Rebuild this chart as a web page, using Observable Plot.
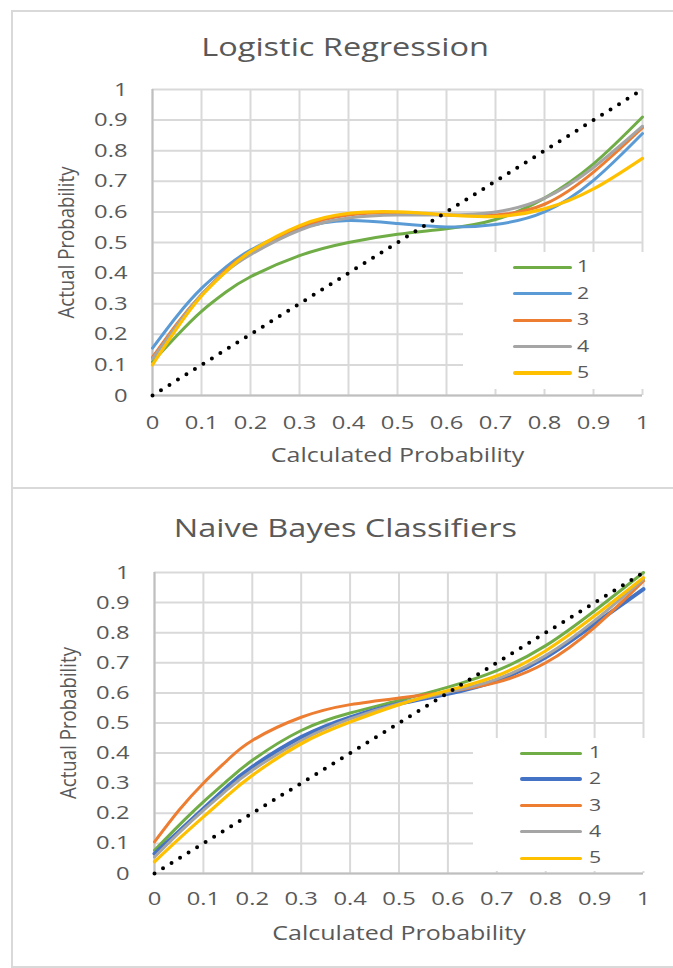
<!DOCTYPE html>
<html>
<head>
<meta charset="utf-8">
<script src="https://cdn.jsdelivr.net/npm/d3@7"></script>
<script src="https://cdn.jsdelivr.net/npm/@observablehq/plot@0.6"></script>
<style>
  html, body { margin: 0; padding: 0; background: #fff; }
  #page { position: relative; width: 673px; height: 968px; overflow: hidden; font-family: "Open Sans", sans-serif; color: #595959; }
  .panel { position: absolute; left: 11px; width: 720px; border: 2px solid #d9d9d9; box-sizing: border-box; }
  .title { position: absolute; left: 0; width: 690px; text-align: center; font-size: 26px; line-height: 30px; color: #595959; white-space: nowrap; }
  .title span { display: inline-block; transform: scaleX(1.25); }
  .chart { position: absolute; left: 0; }
  .legend { position: absolute; background: #fff; z-index: 2; }
  .legend .ln { position: absolute; border-radius: 2px; }
  .legend .lb { position: absolute; font-size: 17px; line-height: 20px; color: #595959; transform-origin: left center; transform: scaleX(1.25); }
</style>
</head>
<body>
<div id="page"></div>
<script>
// ---------- data ----------
const xs = [0, 0.05, 0.1, 0.15, 0.2, 0.3, 0.4, 0.5, 0.6, 0.7, 0.8, 0.9, 1];
const ticks = [0, 0.1, 0.2, 0.3, 0.4, 0.5, 0.6, 0.7, 0.8, 0.9, 1];
const seriesNames = ["1", "2", "3", "4", "5"];

// Logistic Regression
const lr1 = [0.11, 0.196, 0.275, 0.338, 0.388, 0.457, 0.50, 0.527, 0.545, 0.575, 0.645, 0.757, 0.91];
const lr2 = [0.155, 0.26, 0.35, 0.42, 0.475, 0.545, 0.572, 0.562, 0.551, 0.559, 0.60, 0.703, 0.856];
const lr3 = [0.125, 0.235, 0.33, 0.41, 0.47, 0.55, 0.59, 0.597, 0.59, 0.59, 0.625, 0.73, 0.875];
const lr4 = [0.12, 0.23, 0.33, 0.405, 0.46, 0.54, 0.58, 0.59, 0.59, 0.60, 0.645, 0.745, 0.88];
const lr5 = [0.10, 0.22, 0.325, 0.405, 0.47, 0.555, 0.595, 0.60, 0.59, 0.585, 0.61, 0.675, 0.775];

// Naive Bayes Classifiers
const nb1 = [0.077, 0.16, 0.238, 0.31, 0.376, 0.475, 0.533, 0.575, 0.619, 0.674, 0.757, 0.873, 1.0];
const nb2 = [0.066, 0.14, 0.215, 0.29, 0.354, 0.453, 0.519, 0.564, 0.597, 0.641, 0.718, 0.829, 0.945];
const nb3 = [0.105, 0.21, 0.30, 0.378, 0.442, 0.519, 0.561, 0.583, 0.604, 0.635, 0.70, 0.818, 0.972];
const nb4 = [0.055, 0.135, 0.21, 0.28, 0.343, 0.442, 0.514, 0.564, 0.602, 0.646, 0.724, 0.84, 0.978];
const nb5 = [0.039, 0.115, 0.188, 0.26, 0.326, 0.431, 0.503, 0.561, 0.608, 0.657, 0.74, 0.856, 0.983];

const lrColors = ["#70AD47", "#5B9BD5", "#ED7D31", "#A5A5A5", "#FFC000"];
const nbColors = ["#70AD47", "#4472C4", "#ED7D31", "#A5A5A5", "#FFC000"];
const lrWidths = [3, 3, 3, 3, 3.2];
const nbWidths = [3, 4, 3, 3, 3.2];

// ---------- drawing ----------
const page = document.getElementById("page");

function addPanel(top, height) {
  const p = document.createElement("div");
  p.className = "panel";
  p.style.top = top + "px";
  p.style.height = height + "px";
  page.appendChild(p);
}

function addTitle(text, top) {
  const t = document.createElement("div");
  t.className = "title";
  t.style.top = top + "px";
  const s = document.createElement("span");
  s.textContent = text;
  t.appendChild(s);
  page.appendChild(t);
}

function makeChart(series, colors, widths, g) {
  const data = series.flatMap((ys, i) => ys.map((y, j) => ({x: xs[j], y, s: seriesNames[i]})));
  const lines = series.map((ys, i) =>
    Plot.line(data.filter(d => d.s === seriesNames[i]), {
      x: "x", y: "y", stroke: colors[i], strokeWidth: widths[i], curve: "natural", strokeLinejoin: "round"
    })
  );
  const svg = Plot.plot({
    width: 673,
    height: g.h,
    marginLeft: g.l, marginRight: g.r, marginTop: g.t, marginBottom: g.b,
    style: {fontFamily: "Open Sans", fontSize: "19px", color: "#595959", background: "transparent", overflow: "visible"},
    x: {domain: [0, 1]},
    y: {domain: [0, 1]},
    marks: [
      Plot.gridX(ticks, {stroke: "#d9d9d9", strokeOpacity: 1, strokeWidth: 2}),
      Plot.gridY(ticks, {stroke: "#d9d9d9", strokeOpacity: 1, strokeWidth: 2}),
      Plot.ruleX([0], {stroke: "#bfbfbf", strokeWidth: 2}),
      Plot.ruleY([0], {stroke: "#bfbfbf", strokeWidth: 2}),
      Plot.axisX(ticks, {tickSize: 0, tickPadding: g.xPad, tickFormat: d => String(d),
        label: "Calculated Probability", labelAnchor: "center", labelOffset: g.xLab, labelArrow: "none"}),
      Plot.axisY(ticks, {tickSize: 0, tickPadding: 25, tickFormat: d => String(d),
        label: "Actual Probability", labelAnchor: "center", labelOffset: 93, labelArrow: "none"}),
      ...lines,
      Plot.line(ticks, {x: d => d, y: d => d, stroke: "black", strokeWidth: 4, strokeDasharray: "0 10", strokeLinecap: "round"})
    ]
  });
  svg.classList.add("chart");
  svg.style.top = g.top + "px";
  page.appendChild(svg);
  svg.querySelectorAll('[aria-label="x-axis label"] text').forEach(t => t.setAttribute("font-size", "20px"));
  // the original picture is horizontally stretched: stretch horizontal texts the same way
  svg.querySelectorAll('[aria-label="x-axis tick label"] text, [aria-label="y-axis tick label"] text, [aria-label="x-axis label"] text').forEach(t => {
    const len = t.getComputedTextLength();
    if (len > 0) {
      t.setAttribute("textLength", (len * 1.25).toFixed(1));
      t.setAttribute("lengthAdjust", "spacingAndGlyphs");
    }
  });
  // rotated y title looks condensed: larger glyphs, same length
  svg.querySelectorAll('[aria-label="y-axis label"] text').forEach(t => {
    t.setAttribute("font-size", "21px");
    t.setAttribute("textLength", "152");
    t.setAttribute("lengthAdjust", "spacingAndGlyphs");
  });
  return svg;
}

function addLegend(box, colors, widths) {
  const div = document.createElement("div");
  div.className = "legend";
  Object.assign(div.style, {left: box.left + "px", top: box.top + "px", width: box.w + "px", height: box.h + "px"});
  seriesNames.forEach((name, i) => {
    const cy = box.row0 + i * box.dy;
    const ln = document.createElement("div");
    ln.className = "ln";
    Object.assign(ln.style, {left: box.lineX + "px", width: box.lineW + "px", top: (cy - widths[i] / 2) + "px", height: widths[i] + "px", background: colors[i]});
    const lb = document.createElement("div");
    lb.className = "lb";
    lb.textContent = name;
    Object.assign(lb.style, {left: box.labelX + "px", top: (cy - 11) + "px"});
    div.appendChild(ln);
    div.appendChild(lb);
  });
  page.appendChild(div);
}

addPanel(10, 479);
addPanel(487, 481);

addTitle("Logistic Regression", 31);
addTitle("Naive Bayes Classifiers", 512);

makeChart([lr1, lr2, lr3, lr4, lr5], lrColors, lrWidths,
  {top: 60, h: 420, l: 152, r: 31, t: 29, b: 85, xPad: 20, xLab: 66});
makeChart([nb1, nb2, nb3, nb4, nb5], nbColors, nbWidths,
  {top: 543, h: 418, l: 154, r: 30, t: 29, b: 88, xPad: 18, xLab: 66});

addLegend({left: 463, top: 252, w: 190, h: 137, row0: 15, dy: 26.5, lineX: 50, lineW: 59, labelX: 114}, lrColors, lrWidths);
addLegend({left: 473, top: 738, w: 180, h: 133, row0: 15, dy: 26.3, lineX: 47, lineW: 62, labelX: 116}, nbColors, nbWidths);
</script>
</body>
</html>
